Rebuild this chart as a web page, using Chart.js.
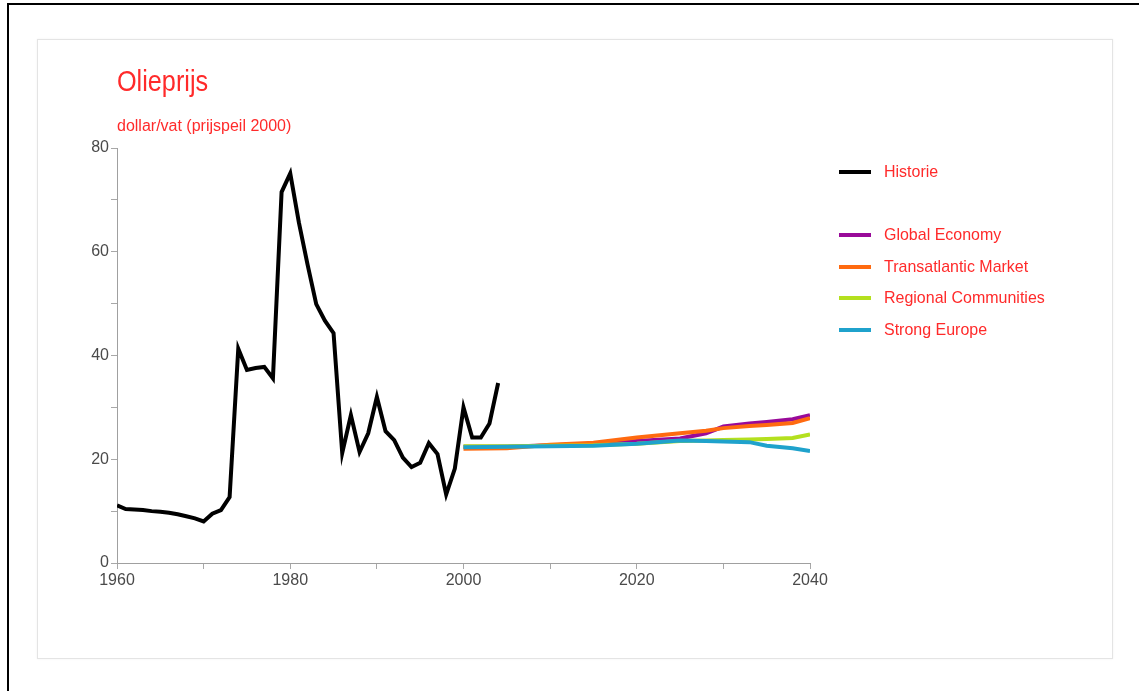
<!DOCTYPE html>
<html>
<head>
<meta charset="utf-8">
<script src="https://cdn.jsdelivr.net/npm/chart.js@4/dist/chart.umd.min.js"></script>
<style>
  html, body { margin: 0; padding: 0; background: #fff; }
  body { width: 1139px; height: 691px; position: relative; overflow: hidden; font-family: "Liberation Sans", Arial, sans-serif; }
  .frame { position: absolute; left: 7px; top: 3px; right: -2px; bottom: -2px; border-left: 2px solid #000; border-top: 2px solid #000; }
  .panel { position: absolute; left: 37px; top: 39px; width: 1074px; height: 618px; border: 1px solid #e4e4e4; box-shadow: 0 0 2px rgba(0,0,0,0.06); background: #fff; }
  #wrap { position: absolute; left: 0; top: 0; width: 1139px; height: 691px; }
</style>
</head>
<body>
<div class="frame"></div>
<div class="panel"></div>
<div id="wrap"><canvas id="chart" width="1139" height="691"></canvas></div>
<script>
// Historical oil price, dollars per barrel (2000 price level)
const historyYears = [1960,1961,1962,1963,1964,1965,1966,1967,1968,1969,
  1970,1971,1972,1973,1974,1975,1976,1977,1978,1979,
  1980,1981,1982,1983,1984,1985,1986,1987,1988,1989,
  1990,1991,1992,1993,1994,1995,1996,1997,1998,1999,
  2000,2001,2002,2003,2004];
const historyPrice = [11.1,10.4,10.3,10.2,10.0,9.9,9.7,9.4,9.0,8.6,
  8.0,9.5,10.2,12.7,41.3,37.2,37.6,37.8,35.6,71.5,
  75.1,65.6,57.5,49.9,46.7,44.3,21.2,28.5,21.4,25.0,
  32.0,25.4,23.7,20.3,18.5,19.3,23.1,21.0,13.2,18.2,
  30.0,24.2,24.2,26.9,34.7];

// Scenario projections
const scenarioYears = [2000,2005,2010,2015,2020,2025,2028,2030,2033,2035,2038,2040];
const globalEconomy = [22.4,22.4,22.7,23.0,23.5,24.0,25.0,26.3,26.9,27.2,27.7,28.5];
const transatlanticMarket = [22.0,22.1,22.8,23.2,24.2,25.0,25.5,26.0,26.4,26.6,27.0,27.9];
const regionalCommunities = [22.5,22.5,22.6,22.7,23.0,23.5,23.6,23.7,23.8,23.9,24.1,24.8];
const strongEurope = [22.3,22.4,22.5,22.6,23.0,23.6,23.5,23.4,23.3,22.6,22.1,21.6];

const seriesNames = ['Historie','Global Economy','Transatlantic Market','Regional Communities','Strong Europe'];
const seriesColors = ['#000000','#990a99','#ff6a10','#b4e01e','#1fa2cc'];

// Axis tick labels
const xTickLabels = [1960,1980,2000,2020,2040];
const yTickLabels = [0,20,40,60,80];

const chartTitle = 'Olieprijs';
const chartUnit = 'dollar/vat (prijspeil 2000)';

const toPoints = (xs, ys) => xs.map((x, i) => ({ x: x, y: ys[i] }));

const textRed = '#ff2a2a';

// Draws text squeezed horizontally (the chart uses a narrow sans face)
function narrowText(ctx, text, x, y, scaleX) {
  ctx.save();
  ctx.translate(x, y);
  ctx.scale(scaleX, 1);
  ctx.fillText(text, 0, 0);
  ctx.restore();
}

// Title, unit line and the legend (with a gap after the history entry)
const decorations = {
  id: 'decorations',
  afterDraw(chart) {
    const ctx = chart.ctx;
    ctx.save();
    ctx.fillStyle = textRed;
    ctx.textBaseline = 'middle';
    ctx.textAlign = 'left';
    ctx.font = '29px "Liberation Sans", Arial, sans-serif';
    narrowText(ctx, chartTitle, 117, 83, 0.87);
    ctx.font = '16px "Liberation Sans", Arial, sans-serif';
    narrowText(ctx, chartUnit, 117, 127, 1.0);

    const rows = [172, 235, 267, 298, 330];
    const order = [0, 1, 2, 3, 4];
    order.forEach((k, i) => {
      const y = rows[i];
      ctx.strokeStyle = seriesColors[k];
      ctx.lineWidth = 4;
      ctx.beginPath();
      ctx.moveTo(839, y);
      ctx.lineTo(871, y);
      ctx.stroke();
      ctx.fillStyle = textRed;
      ctx.font = '17px "Liberation Sans", Arial, sans-serif';
      narrowText(ctx, seriesNames[k], 884, y, 0.94);
    });
    ctx.restore();
  }
};

const lineStyle = { borderWidth: 4, pointRadius: 0, tension: 0, fill: false, borderJoinStyle: 'miter' };

new Chart(document.getElementById('chart'), {
  type: 'line',
  data: {
    datasets: [
      Object.assign({ label: seriesNames[0], data: toPoints(historyYears, historyPrice), borderColor: seriesColors[0] }, lineStyle),
      Object.assign({ label: seriesNames[4], data: toPoints(scenarioYears, strongEurope), borderColor: seriesColors[4] }, lineStyle),
      Object.assign({ label: seriesNames[3], data: toPoints(scenarioYears, regionalCommunities), borderColor: seriesColors[3] }, lineStyle),
      Object.assign({ label: seriesNames[2], data: toPoints(scenarioYears, transatlanticMarket), borderColor: seriesColors[2] }, lineStyle),
      Object.assign({ label: seriesNames[1], data: toPoints(scenarioYears, globalEconomy), borderColor: seriesColors[1] }, lineStyle)
    ]
  },
  options: {
    responsive: false,
    animation: false,
    events: [],
    layout: { padding: { left: 0, top: 148, right: 329, bottom: 88 } },
    plugins: { legend: { display: false }, tooltip: { enabled: false }, title: { display: false } },
    scales: {
      x: {
        type: 'linear',
        min: 1960, max: 2040,
        afterFit(scale) { scale.height = 40; },
        afterBuildTicks(scale) { scale.ticks = [1960,1970,1980,1990,2000,2010,2020,2030,2040].map(v => ({ value: v })); },
        ticks: {
          color: '#4a4a4a',
          font: { family: '"Liberation Sans", Arial, sans-serif', size: 16 },
          padding: 2,
          maxRotation: 0,
          autoSkip: false,
          callback: v => xTickLabels.includes(v) ? String(v) : ''
        },
        grid: { display: true, drawOnChartArea: false, drawTicks: true, tickLength: 6, color: '#a8a8a8', lineWidth: 1 },
        border: { display: true, color: '#a0a0a0', width: 1 }
      },
      y: {
        min: 0, max: 80,
        afterFit(scale) { scale.width = 117; },
        afterBuildTicks(scale) { scale.ticks = [0,10,20,30,40,50,60,70,80].map(v => ({ value: v })); },
        ticks: {
          color: '#4a4a4a',
          font: { family: '"Liberation Sans", Arial, sans-serif', size: 16 },
          padding: 2,
          autoSkip: false,
          callback: v => yTickLabels.includes(v) ? String(v) : ''
        },
        grid: { display: true, drawOnChartArea: false, drawTicks: true, tickLength: 6, color: '#a8a8a8', lineWidth: 1 },
        border: { display: true, color: '#a0a0a0', width: 1 }
      }
    }
  },
  plugins: [decorations]
});
</script>
</body>
</html>
